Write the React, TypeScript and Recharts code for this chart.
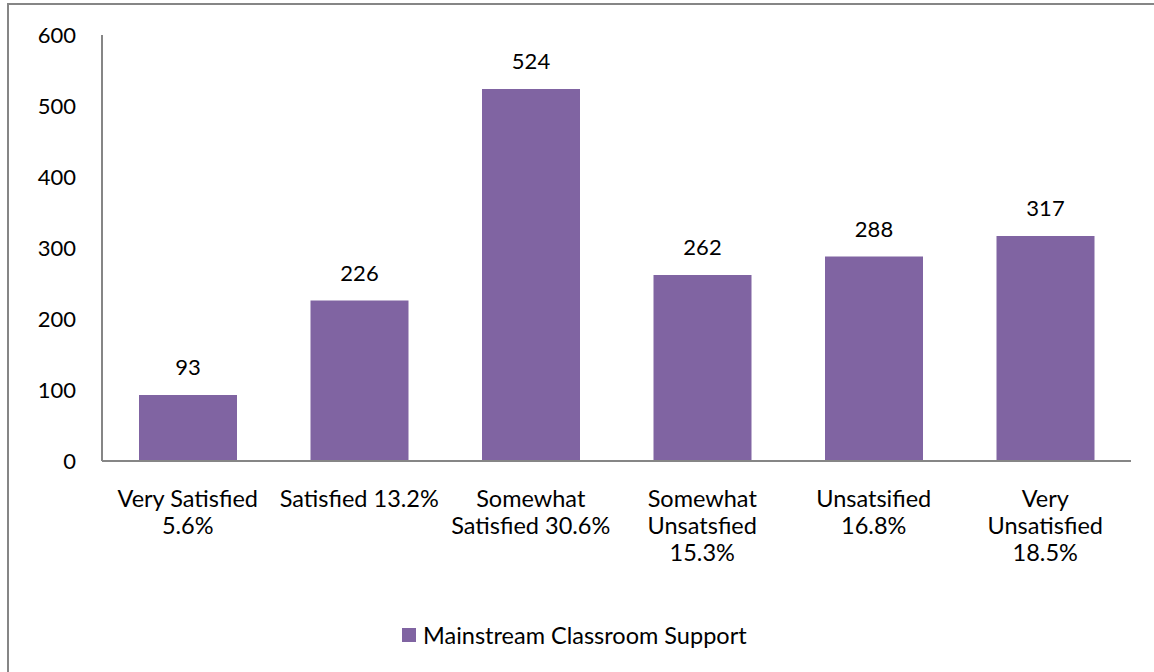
import React from "react";
import {
  BarChart,
  Bar,
  XAxis,
  YAxis,
  Legend,
  LabelList,
} from "recharts";

const categories = [
  "Very Satisfied\n5.6%",
  "Satisfied 13.2%",
  "Somewhat\nSatisfied 30.6%",
  "Somewhat\nUnsatsfied\n15.3%",
  "Unsatsified\n16.8%",
  "Very\nUnsatisfied\n18.5%",
];
const counts = [93, 226, 524, 262, 288, 317];
const yTicks = [0, 100, 200, 300, 400, 500, 600];
const seriesName = "Mainstream Classroom Support";

const data = categories.map((c, i) => ({ category: c, value: counts[i] }));

const FONT = "Lato, 'Open Sans', sans-serif";
const PURPLE = "#8064A2";
const AXIS = "#868686";

function CategoryTick(props: any) {
  const { x, y, payload } = props;
  const lines = String(payload.value).split("\n");
  return (
    <text x={x} y={y} textAnchor="middle" fill="#000" fontSize={23.5} fontFamily={FONT}>
      {lines.map((l, i) => (
        <tspan key={i} x={x} dy={i === 0 ? 46 : 27}>
          {l}
        </tspan>
      ))}
    </text>
  );
}

function LegendBox() {
  return (
    <div
      style={{
        display: "flex",
        alignItems: "center",
        paddingTop: 3,
        height: 47,
        fontFamily: FONT,
        fontSize: 23.5,
        color: "#000",
      }}
    >
      <div style={{ display: "flex", alignItems: "center", height: 20, alignSelf: "flex-start" }}>
        <span style={{ width: 14, height: 14, background: PURPLE, marginRight: 7, display: "inline-block" }} />
        <span style={{ lineHeight: "20px" }}>{seriesName}</span>
      </div>
    </div>
  );
}

export default function App() {
  return (
    <div style={{ position: "absolute", left: 0, top: 0, width: 1154, height: 672, background: "#fff", overflow: "hidden" }}>
      <div
        style={{
          position: "absolute",
          left: 7,
          top: 3,
          width: 1170,
          height: 690,
          border: `2px solid ${AXIS}`,
          boxSizing: "border-box",
        }}
      />
      <div style={{ position: "absolute", left: 0, top: 0 }}>
        <BarChart
          width={1154}
          height={672}
          data={data}
          margin={{ top: 35, right: 23, left: 0, bottom: 0 }}
        >
          <XAxis
            dataKey="category"
            height={161}
            interval={0}
            tickLine={false}
            tickSize={0}
            tickMargin={0}
            axisLine={{ stroke: AXIS, strokeWidth: 2 }}
            tick={<CategoryTick />}
          />
          <YAxis
            width={102}
            domain={[0, 600]}
            ticks={yTicks}
            interval={0}
            tickLine={false}
            tickSize={0}
            tickMargin={26}
            axisLine={{ stroke: AXIS, strokeWidth: 2 }}
            tick={{ fill: "#000", fontSize: 22, fontFamily: FONT }}
          />
          <Legend
            verticalAlign="bottom"
            height={50}
            content={<LegendBox />}
            wrapperStyle={{ left: 402, width: "auto" }}
          />
          <Bar dataKey="value" name={seriesName} fill={PURPLE} barSize={98} isAnimationActive={false}>
            <LabelList
              dataKey="value"
              position="top"
              offset={20}
              fill="#000"
              fontSize={22}
              fontFamily={FONT}
            />
          </Bar>
        </BarChart>
      </div>
    </div>
  );
}
